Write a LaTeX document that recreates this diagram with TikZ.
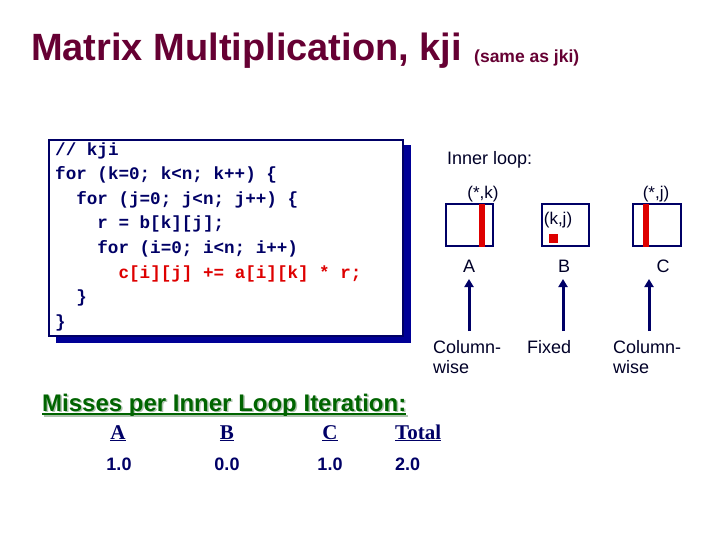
\documentclass[tikz,border=0pt]{standalone}
\usepackage{fontspec}
\setmainfont{Liberation Sans}
\newfontfamily\codefont{Liberation Mono}
\newfontfamily\hdrfont{Liberation Serif}
\usetikzlibrary{arrows.meta}
\definecolor{navy}{RGB}{0,0,102}
\definecolor{ink}{RGB}{0,0,40}
\definecolor{shadowblue}{RGB}{0,0,150}
\definecolor{maroon}{RGB}{102,0,51}
\definecolor{codered}{RGB}{222,0,0}
\definecolor{missgreen}{RGB}{0,100,0}
\definecolor{missshadow}{RGB}{175,195,175}
\begin{document}
\begin{tikzpicture}[x=1pt,y=-1pt,
  txt/.style={inner sep=0pt, anchor=base west},
  ctxt/.style={inner sep=0pt, anchor=base},
  codeline/.style={txt, font=\codefont\bfseries\fontsize{17.6}{20}\selectfont, text=navy},
  lbl/.style={font=\fontsize{18}{20}\selectfont, text=ink},
  mbox/.style={draw=navy, line width=2pt, fill=white},
  redbar/.style={fill=codered, draw=none},
  arr/.style={draw=navy, line width=3pt, -{Triangle[length=8pt,width=9pt]}},
  hdr/.style={ctxt, font=\hdrfont\bfseries\fontsize{21}{24}\selectfont, text=navy},
  val/.style={ctxt, font=\bfseries\fontsize{18}{20}\selectfont, text=navy},
  missfont/.style={txt, font=\bfseries\fontsize{24}{28}\selectfont}]
\useasboundingbox[fill=white] (0,0) rectangle (720,540);

% title
\node[txt, font=\bfseries\fontsize{38}{44}\selectfont, text=maroon] (title) at (31,61) {Matrix Multiplication, kji};
\node[txt, font=\bfseries\fontsize{17.5}{20}\selectfont, text=maroon] (same) at (474,63) {(same as jki)};

% code box
\fill[shadowblue] (56,145) rectangle (411,343);
\draw[navy, line width=2pt, fill=white] (49,140) rectangle (403,336);
\node[codeline] (c1) at (55,155.5) {// kji};
\node[codeline] (c2) at (55,180) {for (k=0; k<n; k++) \{};
\node[codeline] (c3) at (76.1,204.5) {for (j=0; j<n; j++) \{};
\node[codeline] (c4) at (97.2,229) {r = b[k][j];};
\node[codeline] (c5) at (97.2,253.5) {for (i=0; i<n; i++)};
\node[codeline, text=codered] (c6) at (118.4,278) {c[i][j] += a[i][k] * r;};
\node[codeline] (c7) at (76.1,302.5) {\}};
\node[codeline] (c8) at (55,327) {\}};

% inner loop
\node[txt, lbl] (inner) at (447,165) {Inner loop:};

\draw[mbox] (446,204) rectangle (493,246);
\fill[redbar] (479,204) rectangle (485,247);
\draw[mbox] (542,204) rectangle (589,246);
\fill[redbar] (549,234) rectangle (558,243);
\draw[mbox] (633,204) rectangle (681,246);
\fill[redbar] (643,204) rectangle (649,247);

\node[ctxt, font=\fontsize{17}{20}\selectfont, text=ink] (ik) at (483,199) {(*,k)};
\node[ctxt, font=\fontsize{17}{20}\selectfont, text=ink] (kj) at (558,225) {(k,j)};
\node[ctxt, font=\fontsize{17}{20}\selectfont, text=ink] (ij) at (656,199) {(*,j)};

\node[ctxt, lbl] (labA) at (469,272) {A};
\node[ctxt, lbl] (labB) at (564,272) {B};
\node[ctxt, lbl] (labC) at (663,272) {C};

\node[lbl, inner sep=0pt, anchor=north west, align=left] (colA) at (433,339.8) {Column-\\wise};
\node[txt, lbl] (fixB) at (527,353) {Fixed};
\node[lbl, inner sep=0pt, anchor=north west, align=left] (colC) at (613,339.8) {Column-\\wise};

\coordinate (aA0) at (469,331); \coordinate (aA1) at (469,279);
\coordinate (aB0) at (563,331); \coordinate (aB1) at (563,279);
\coordinate (aC0) at (649,331); \coordinate (aC1) at (649,279);
\draw[arr] (aA0) -- (aA1);
\draw[arr] (aB0) -- (aB1);
\draw[arr] (aC0) -- (aC1);

% misses
\node[missfont, text=missshadow] (missS) at (43.5,412.5) {Misses per Inner Loop Iteration:};
\draw[missshadow, line width=2pt] ([yshift=-3pt]missS.base west) -- ([yshift=-3pt]missS.base east);
\node[missfont, text=missgreen] (miss) at (42,411) {Misses per Inner Loop Iteration:};
\draw[missgreen, line width=2pt] ([yshift=-3pt]miss.base west) -- ([yshift=-3pt]miss.base east);

\node[hdr] (hA) at (118,439) {\underline{A}};
\node[hdr] (hB) at (227,439) {\underline{B}};
\node[hdr] (hC) at (330,439) {\underline{C}};
\node[hdr, anchor=base west] (hT) at (395,439) {\underline{Total}};
\node[val] (vA) at (119,470) {1.0};
\node[val] (vB) at (227,470) {0.0};
\node[val] (vC) at (330,470) {1.0};
\node[val, anchor=base west] (vT) at (395,470) {2.0};
\end{tikzpicture}
\end{document}
